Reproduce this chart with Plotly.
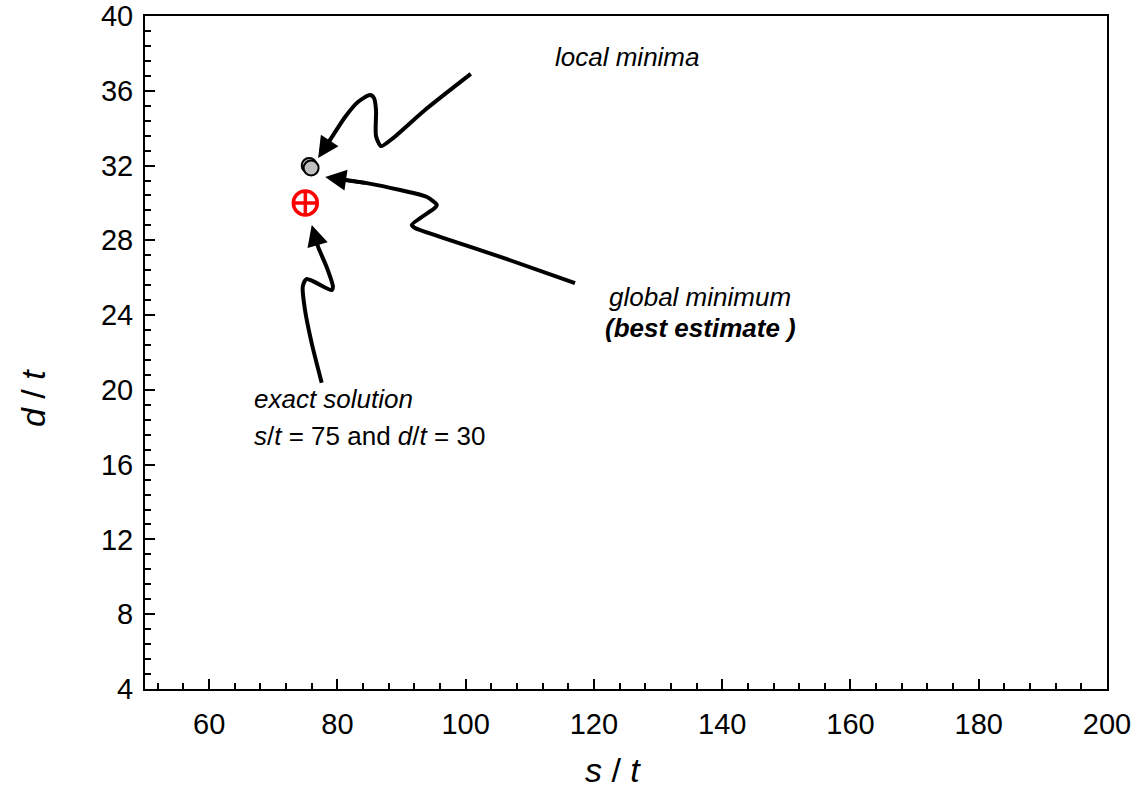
import plotly.graph_objects as go

# Solutions in the (s/t, d/t) plane
exact_s, exact_d = [75.0], [30.0]
local_s, local_d = [75.6, 75.9], [32.0, 31.87]

# Hand-drawn pointer curves (s/t, d/t); last point is the arrow tip
arrow_local_s = [100.8, 93.66, 88.5, 86.8, 86.02, 86.02, 85.7, 85.08, 83.2, 81.2, 79.16, 77.0]
arrow_local_d = [36.9, 34.97, 33.42, 33.04, 33.58, 34.97, 35.61, 35.77, 35.4, 34.6, 33.53, 32.4]
arrow_global_s = [117.05, 105.4, 96.0, 92.1, 91.6, 95.2, 95.5, 93.9, 89.8, 84.6, 78.1]
arrow_global_d = [25.71, 27.12, 28.19, 28.66, 28.82, 29.73, 29.89, 30.33, 30.69, 31.06, 31.39]
arrow_exact_s = [77.55, 75.99, 74.95, 74.6, 75.2, 79.1, 79.3, 78.3, 76.98, 76.0]
arrow_exact_d = [20.38, 22.5, 24.27, 25.52, 25.93, 25.34, 25.52, 26.59, 27.66, 28.82]

x_ticks = [60, 80, 100, 120, 140, 160, 180, 200]
y_ticks = [4, 8, 12, 16, 20, 24, 28, 32, 36, 40]

FONT = "Arial, 'Liberation Sans', sans-serif"

fig = go.Figure()

annotations = []
for xs, ys in [(arrow_local_s, arrow_local_d),
               (arrow_global_s, arrow_global_d),
               (arrow_exact_s, arrow_exact_d)]:
    # stop the stroke a little short of the tip so the arrowhead closes it
    end_x = xs[-2] + 0.6 * (xs[-1] - xs[-2])
    end_y = ys[-2] + 0.6 * (ys[-1] - ys[-2])
    fig.add_trace(go.Scatter(
        x=xs[:-1] + [end_x], y=ys[:-1] + [end_y], mode="lines",
        line=dict(color="black", width=4, shape="spline", smoothing=0.7),
        hoverinfo="skip", showlegend=False))
    annotations.append(dict(
        x=xs[-1], y=ys[-1], ax=xs[-2], ay=ys[-2],
        xref="x", yref="y", axref="x", ayref="y",
        showarrow=True, arrowhead=2, arrowsize=1.2, arrowwidth=3.5,
        arrowcolor="black", text=""))

fig.add_trace(go.Scatter(
    x=local_s, y=local_d, mode="markers",
    marker=dict(size=15, color="#c0c0c0", line=dict(color="black", width=2)),
    showlegend=False))
fig.add_trace(go.Scatter(
    x=exact_s, y=exact_d, mode="markers",
    marker=dict(size=24, symbol="circle-cross-open", color="red",
                line=dict(color="red", width=3.5)),
    showlegend=False))

txt_font = dict(size=26, family=FONT, color="black")
annotations += [
    dict(x=125.16, y=37.81, text="<i>local minima</i>", showarrow=False, font=txt_font),
    dict(x=136.54, y=24.97, text="<i>global minimum</i>", showarrow=False, font=txt_font),
    dict(x=136.54, y=23.31, text="<b><i>(best estimate )</i></b>", showarrow=False, font=txt_font),
    dict(x=66.68, y=19.51, xanchor="left", text="<i>exact solution</i>",
         showarrow=False, font=txt_font),
    dict(x=66.68, y=17.53, xanchor="left",
         text="<i>s</i>/<i>t</i> = 75 and <i>d</i>/<i>t</i> = 30",
         showarrow=False, font=txt_font),
    # axis titles
    dict(x=-0.1164, y=0.4324, xref="paper", yref="paper", textangle=-90,
         xanchor="center", yanchor="middle",
         text="<i>d</i> / <i>t</i>", showarrow=False,
         font=dict(size=34, family=FONT, color="black")),
    dict(x=0.4865, y=-0.1204, xref="paper", yref="paper",
         xanchor="center", yanchor="middle",
         text="<i>s</i> / <i>t</i>", showarrow=False,
         font=dict(size=34, family=FONT, color="black")),
]

axis_common = dict(
    showline=True, linecolor="black", linewidth=2, mirror=True,
    ticks="inside", ticklen=10, tickwidth=2, tickcolor="black",
    showgrid=False, zeroline=False, automargin=False,
    tickfont=dict(size=29, family=FONT, color="black"),
)

fig.update_xaxes(
    range=[50, 200], tickvals=x_ticks,
    minor=dict(dtick=4, tick0=0, ticks="inside", ticklen=6, tickwidth=1.5,
               tickcolor="black", showgrid=False),
    ticklabelstandoff=8,
    **axis_common)
fig.update_yaxes(
    range=[4, 40], tickvals=y_ticks,
    minor=dict(dtick=0.8, tick0=0, ticks="inside", ticklen=6, tickwidth=1.5,
               tickcolor="black", showgrid=False),
    ticklabelstandoff=4,
    **axis_common)

fig.update_layout(
    width=1146, height=791,
    margin=dict(l=145, r=39, t=16, b=102),
    plot_bgcolor="white", paper_bgcolor="white",
    annotations=annotations,
    showlegend=False,
)

fig.write_html("out.html")
